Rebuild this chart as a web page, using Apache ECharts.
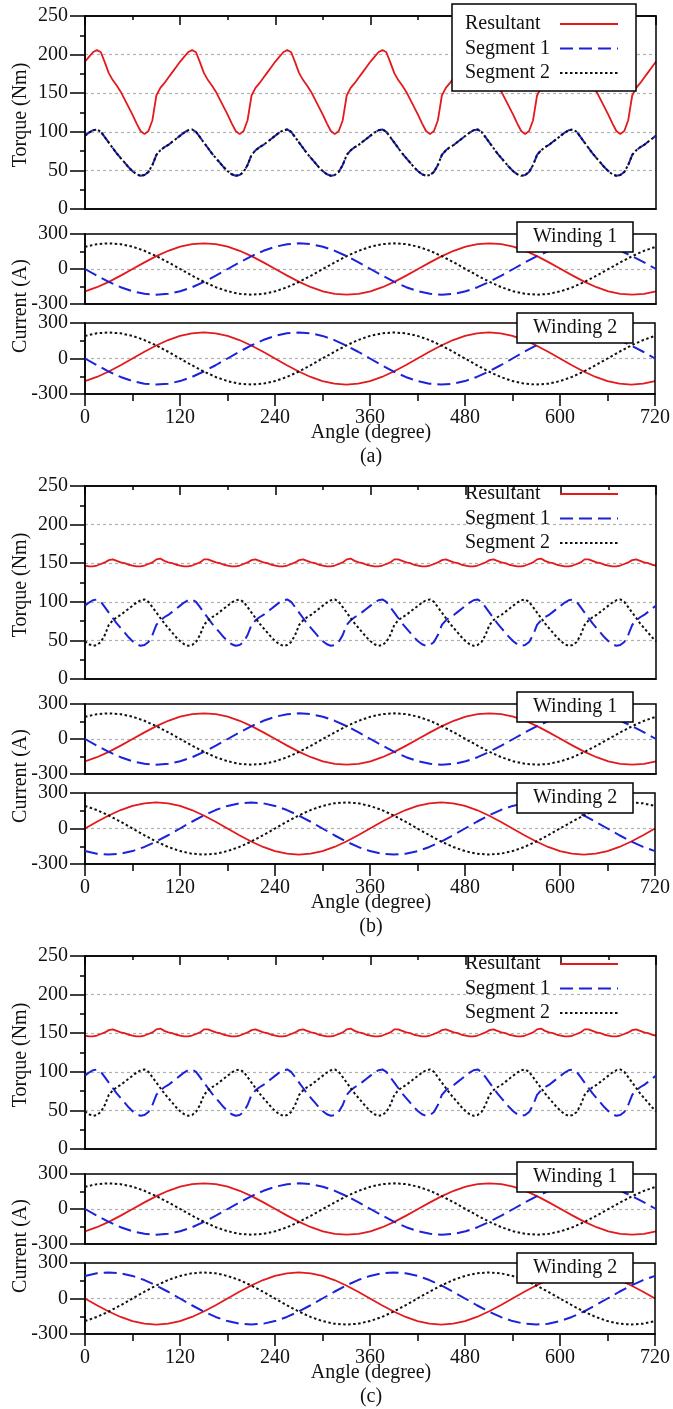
<!DOCTYPE html>
<html lang="en">
<head>
<meta charset="UTF-8">
<title>Torque and winding current</title>
<script src="https://cdn.jsdelivr.net/npm/echarts@6/dist/echarts.min.js"></script>
<style>
    *{margin:0;padding:0;}
    body{background:#fff;overflow:hidden;}
    #main{width:673px;height:1409px;}
</style>
</head>
<body>
<div id="main"></div>
<script>
// tick labels
var angleTicks = [0, 120, 240, 360, 480, 600, 720];
var torqueTicks = [0, 50, 100, 150, 200, 250];
var currentTicks = [-300, 0, 300];

// torque, read every 5 degree
var torqueStep = 5;
var torqueResA = [
    191,197,203,206,203,190,176,167,160,152,142,132,122,111,101,97,101,115,147,157,163,170,177,184,
    191,197,203,206,203,190,176,167,160,152,142,132,122,111,101,97,101,115,147,157,163,170,177,184,
    191,197,203,206,203,190,176,167,160,152,142,132,122,111,101,97,101,115,147,157,163,170,177,184,
    191,197,203,206,203,190,176,167,160,152,142,132,122,111,101,97,101,115,147,157,163,170,177,184,
    191,197,203,206,203,190,176,167,160,152,142,132,122,111,101,97,101,115,147,157,163,170,177,184,
    191,197,203,206,203,190,176,167,160,152,142,132,122,111,101,97,101,115,147,157,163,170,177,184,
    191
];
var torqueSeg1 = [
    95,99,102,103,100,93,86,79,72,66,60,54,49,45,43,44,48,57,70,76,80,83,87,91,
    95,99,102,103,100,93,86,79,72,66,60,54,49,45,43,44,48,57,70,76,80,83,87,91,
    95,99,102,103,100,93,86,79,72,66,60,54,49,45,43,44,48,57,70,76,80,83,87,91,
    95,99,102,103,100,93,86,79,72,66,60,54,49,45,43,44,48,57,70,76,80,83,87,91,
    95,99,102,103,100,93,86,79,72,66,60,54,49,45,43,44,48,57,70,76,80,83,87,91,
    95,99,102,103,100,93,86,79,72,66,60,54,49,45,43,44,48,57,70,76,80,83,87,91,
    95
];
var torqueSeg2A = torqueSeg1; // (a): both segments coincide
var torqueSeg2B = [
    49,45,43,44,48,57,70,76,80,83,87,91,95,99,102,103,100,93,86,79,72,66,60,54,
    49,45,43,44,48,57,70,76,80,83,87,91,95,99,102,103,100,93,86,79,72,66,60,54,
    49,45,43,44,48,57,70,76,80,83,87,91,95,99,102,103,100,93,86,79,72,66,60,54,
    49,45,43,44,48,57,70,76,80,83,87,91,95,99,102,103,100,93,86,79,72,66,60,54,
    49,45,43,44,48,57,70,76,80,83,87,91,95,99,102,103,100,93,86,79,72,66,60,54,
    49,45,43,44,48,57,70,76,80,83,87,91,95,99,102,103,100,93,86,79,72,66,60,54,
    49
];
var torqueResB = [
    147,146,146,147,149,151,154,155,153,151,150,148,147,146,146,147,149,151,155,156,153,151,150,148,
    147,146,146,147,149,151,155,155,153,151,150,148,147,146,146,147,149,151,154,155,153,151,150,148,
    147,146,146,147,149,151,154,155,153,151,150,148,147,146,146,147,149,151,155,156,153,151,150,148,
    147,146,146,147,149,151,155,155,153,151,150,148,147,146,146,147,149,151,154,155,153,151,150,148,
    147,146,146,147,149,151,154,155,153,151,150,148,147,146,146,147,149,151,155,156,153,151,150,148,
    147,146,146,147,149,151,155,155,153,151,150,148,147,146,146,147,149,151,154,155,153,151,150,148,
    147
];

// phase currents, read every 15 degree
var currentStep = 15;
var curRedA = [
    -191,-156,-110,-57,0,57,110,156,191,213,220,213,191,156,110,57,0,-57,-110,-156,-191,-213,-220,-213,-191,
    -156,-110,-57,0,57,110,156,191,213,220,213,191,156,110,57,0,-57,-110,-156,-191,-213,-220,-213,-191
];
var curBlueA = [
    0,-57,-110,-156,-191,-213,-220,-213,-191,-156,-110,-57,0,57,110,156,191,213,220,213,191,156,110,57,0,
    -57,-110,-156,-191,-213,-220,-213,-191,-156,-110,-57,0,57,110,156,191,213,220,213,191,156,110,57,0
];
var curBlackA = [
    191,213,220,213,191,156,110,57,0,-57,-110,-156,-191,-213,-220,-213,-191,-156,-110,-57,0,57,110,156,191,
    213,220,213,191,156,110,57,0,-57,-110,-156,-191,-213,-220,-213,-191,-156,-110,-57,0,57,110,156,191
];
var curRedB2 = [
    0,57,110,156,191,213,220,213,191,156,110,57,0,-57,-110,-156,-191,-213,-220,-213,-191,-156,-110,-57,0,
    57,110,156,191,213,220,213,191,156,110,57,0,-57,-110,-156,-191,-213,-220,-213,-191,-156,-110,-57,0
];
var curBlueB2 = [
    -191,-213,-220,-213,-191,-156,-110,-57,0,57,110,156,191,213,220,213,191,156,110,57,0,-57,-110,-156,-191,
    -213,-220,-213,-191,-156,-110,-57,0,57,110,156,191,213,220,213,191,156,110,57,0,-57,-110,-156,-191
];
var curBlackB2 = [
    191,156,110,57,0,-57,-110,-156,-191,-213,-220,-213,-191,-156,-110,-57,0,57,110,156,191,213,220,213,191,
    156,110,57,0,-57,-110,-156,-191,-213,-220,-213,-191,-156,-110,-57,0,57,110,156,191,213,220,213,191
];
// (c) winding 2 reuses the same waveforms with the phases swapped
var curRedC2 = curBlueA;
var curBlueC2 = curBlackA;
var curBlackC2 = curRedA;

var FONT = '"Liberation Serif", "Times New Roman", serif';
var RED = '#e3191c', BLUE = '#1c22d8', BLACK = '#111';

var panels = [
    {tag: '(a)', res: torqueResA, s1: torqueSeg1, s2: torqueSeg2A,
        w1: [curRedA, curBlueA, curBlackA], w2: [curRedA, curBlueA, curBlackA], box: true},
    {tag: '(b)', res: torqueResB, s1: torqueSeg1, s2: torqueSeg2B,
        w1: [curRedA, curBlueA, curBlackA], w2: [curRedB2, curBlueB2, curBlackB2], box: false},
    {tag: '(c)', res: torqueResB, s1: torqueSeg1, s2: torqueSeg2B,
        w1: [curRedA, curBlueA, curBlackA], w2: [curRedC2, curBlueC2, curBlackC2], box: false}
];

function toPairs(values, step) {
    return values.map(function (v, i) { return [i * step, v]; });
}

var styles = [
    {name: 'Resultant', color: RED, type: 'solid', width: 1.8},
    {name: 'Segment 1', color: BLUE, type: [13, 6], width: 2},
    {name: 'Segment 2', color: BLACK, type: [2.5, 2.5], width: 2}
];

var grid = [], xAxis = [], yAxis = [], series = [], legend = [], title = [], graphic = [];
var axisLineStyle = {color: '#000', width: 1.5};

panels.forEach(function (p, k) {
    var off = 470 * k;
    var boxes = [
        {top: 16 + off, height: 193, ticks: torqueTicks},
        {top: 234 + off, height: 70, ticks: currentTicks},
        {top: 323 + off, height: 71, ticks: currentTicks}
    ];
    boxes.forEach(function (b, g) {
        var gi = k * 3 + g;
        var bottom = g === 2;
        grid.push({left: 85, right: 17, top: b.top, height: b.height,
            show: true, borderColor: '#000', borderWidth: 1.5, z: 3});
        xAxis.push({
            type: 'value', gridIndex: gi,
            min: angleTicks[0], max: angleTicks[angleTicks.length - 1],
            interval: angleTicks[1] - angleTicks[0],
            axisLine: {show: true, onZero: false, lineStyle: axisLineStyle},
            axisTick: {show: bottom, length: 12, lineStyle: axisLineStyle},
            minorTick: {show: bottom, splitNumber: 2, length: 7, lineStyle: axisLineStyle},
            axisLabel: {show: bottom, margin: 14, fontFamily: FONT, fontSize: 20, color: '#111'},
            splitLine: {show: false}
        });
        yAxis.push({
            type: 'value', gridIndex: gi,
            min: b.ticks[0], max: b.ticks[b.ticks.length - 1],
            interval: b.ticks[1] - b.ticks[0],
            axisLine: {show: true, onZero: false, lineStyle: axisLineStyle},
            axisTick: {show: true, length: 15, lineStyle: axisLineStyle},
            minorTick: {show: true, splitNumber: 2, length: 5, lineStyle: axisLineStyle},
            axisLabel: {margin: 17, fontFamily: FONT, fontSize: 20, color: '#111'},
            splitLine: {show: true, showMinLine: false, showMaxLine: false,
                lineStyle: {color: '#b0b0b0', type: [3, 3], width: 1.2}}
        });
    });

    // torque series
    [p.res, p.s1, p.s2].forEach(function (vals, i) {
        var st = styles[i];
        series.push({
            name: st.name, type: 'line', xAxisIndex: k * 3, yAxisIndex: k * 3,
            symbol: 'none', animation: false, z: 2 + i,
            lineStyle: {color: st.color, type: st.type, width: st.width},
            itemStyle: {color: st.color},
            data: toPairs(vals, torqueStep)
        });
    });
    // current series
    [p.w1, p.w2].forEach(function (set, w) {
        set.forEach(function (vals, i) {
            var st = styles[i];
            series.push({
                name: 'w' + (w + 1) + '-' + i + '-' + k, type: 'line',
                xAxisIndex: k * 3 + 1 + w, yAxisIndex: k * 3 + 1 + w,
                symbol: 'none', animation: false, z: 2 + i,
                lineStyle: {color: st.color, type: st.type, width: st.width},
                data: toPairs(vals, currentStep)
            });
        });
    });

    legend.push({
        orient: 'vertical', left: 452, top: 4 + off,
        align: 'right', selectedMode: false,
        padding: [10, 17, 8, 13], itemGap: 4.5, itemWidth: 58, itemHeight: 14,
        itemStyle: {opacity: 0},
        backgroundColor: p.box ? '#fff' : 'transparent',
        borderColor: p.box ? '#000' : 'transparent', borderWidth: p.box ? 1.5 : 0,
        data: ['Resultant', 'Segment 1', 'Segment 2'],
        formatter: '{t|{name}}',
        textStyle: {fontFamily: FONT, fontSize: 20, color: '#111',
            rich: {t: {width: 90, align: 'left', fontFamily: FONT, fontSize: 20, lineHeight: 21}}}
    });

    ['Winding 1', 'Winding 2'].forEach(function (txt, w) {
        title.push({
            text: txt, left: 517, top: (w === 0 ? 222 : 313) + off,
            padding: [4, 16, 4, 16], borderColor: '#000', borderWidth: 1.5, backgroundColor: '#fff',
            textStyle: {fontFamily: FONT, fontSize: 20, fontWeight: 'normal', color: '#111', lineHeight: 22}
        });
    });

    graphic.push(
        {type: 'text', x: 21, y: 115 + off, rotation: Math.PI / 2,
            style: {text: 'Torque (Nm)', font: '20px ' + FONT, fill: '#111', align: 'center', verticalAlign: 'middle'}},
        {type: 'text', x: 21, y: 306 + off, rotation: Math.PI / 2,
            style: {text: 'Current (A)', font: '20px ' + FONT, fill: '#111', align: 'center', verticalAlign: 'middle'}},
        {type: 'text', x: 371, y: 433 + off,
            style: {text: 'Angle (degree)', font: '20px ' + FONT, fill: '#111', align: 'center', verticalAlign: 'middle'}},
        {type: 'text', x: 371, y: 457 + off,
            style: {text: p.tag, font: '20px ' + FONT, fill: '#111', align: 'center', verticalAlign: 'middle'}}
    );
});

// inward ticks along the top of each torque box
panels.forEach(function (p, k) {
    xAxis.push({
        type: 'value', gridIndex: k * 3, position: 'top',
        min: angleTicks[0], max: angleTicks[angleTicks.length - 1],
        interval: angleTicks[1] - angleTicks[0],
        axisLine: {show: true, onZero: false, lineStyle: axisLineStyle},
        axisTick: {show: true, inside: true, length: 9, lineStyle: axisLineStyle},
        minorTick: {show: true, splitNumber: 2, length: 4, lineStyle: axisLineStyle},
        axisLabel: {show: false},
        splitLine: {show: false}
    });
});

var myChart = echarts.init(document.getElementById('main'), null, {renderer: 'canvas'});
myChart.setOption({
    backgroundColor: '#fff',
    animation: false,
    grid: grid,
    xAxis: xAxis,
    yAxis: yAxis,
    legend: legend,
    title: title,
    graphic: graphic,
    series: series
});
</script>
</body>
</html>
